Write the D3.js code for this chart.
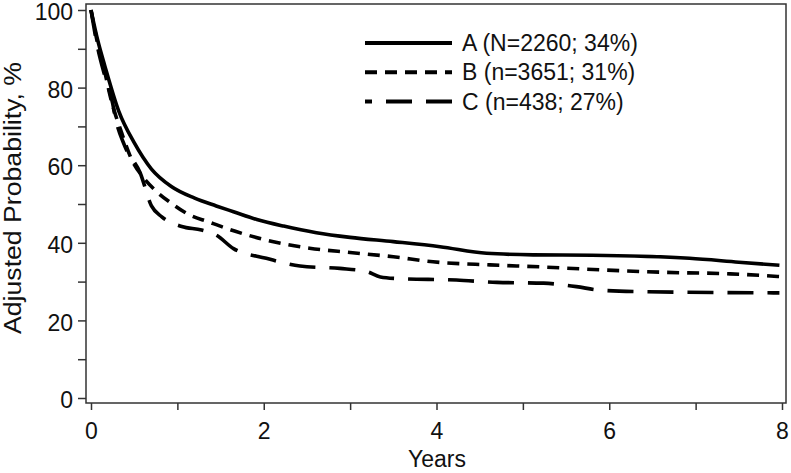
<!DOCTYPE html>
<html>
<head>
<meta charset="utf-8">
<script src="https://cdn.jsdelivr.net/npm/d3@7"></script>
<style>
body { margin:0; background:#fff; }
text { font-family:"Liberation Sans", Arial, sans-serif; fill:#111; }
</style>
</head>
<body>
<svg id="chart"></svg>
<script>
// years since start
var yearsA = [0, 0.08, 0.16, 0.32, 0.5, 0.7, 0.93, 1.2, 1.45, 1.65, 1.92, 2.23, 2.61, 3.0, 3.5, 4.04, 4.58, 5.12, 5.8, 6.93, 7.5, 7.97];
var probA  = [100, 92, 85.6, 74, 65.8, 59, 54.5, 51.5, 49.5, 48, 46, 44.3, 42.6, 41.4, 40.3, 39, 37.3, 36.9, 36.8, 36, 35, 34.2];

var yearsB = [0, 0.08, 0.16, 0.22, 0.36, 0.47, 0.6, 0.74, 0.93, 1.13, 1.36, 1.57, 2.03, 2.53, 3.0, 3.5, 3.96, 4.62, 5.2, 5.74, 6.62, 7.4, 7.97];
var probB  = [100, 91, 84, 78, 68, 61.5, 57, 53.6, 50.2, 47.3, 45.4, 43.7, 40.7, 38.6, 37.5, 36.4, 35.1, 34.3, 33.8, 33.2, 32.4, 32, 31.3];

var yearsC = [0, 0.08, 0.16, 0.25, 0.28, 0.39, 0.57, 0.7, 0.82, 1.05, 1.28, 1.45, 1.65, 2.03, 2.42, 2.88, 3.19, 3.35, 3.54, 4.23, 4.7, 5.24, 5.62, 5.89, 6.43, 7.97];
var probC  = [100, 90, 83, 76, 72.5, 65, 58, 49.5, 46.7, 44.2, 43.3, 42, 38.5, 36, 34, 33.4, 32.6, 31.2, 30.8, 30.4, 29.8, 29.6, 28.7, 27.8, 27.4, 27.1];

var groupLabels = ["A (N=2260; 34%)", "B (n=3651; 31%)", "C (n=438; 27%)"];
var dashes = ["none", "12,8", "26,14"];

var xTicks = [0, 1, 2, 3, 4, 5, 6, 7, 8];
var yTicks = [0, 10, 20, 30, 40, 50, 60, 70, 80, 90, 100];

var screen = {width:791, height:473};
var frame = {left:86, right:786, top:4, bottom:403};

var svg = d3.select("#chart")
    .attr("width", screen.width)
    .attr("height", screen.height);

var xScale = d3.scaleLinear()
    .domain([0, 8])
    .range([91, 782]);

var yScale = d3.scaleLinear()
    .domain([0, 100])
    .range([398, 10]);

var toPoints = function(xs, ys) {
    return xs.map(function(x, i) { return {t:x, p:ys[i]}; });
}

var series = [toPoints(yearsA, probA), toPoints(yearsB, probB), toPoints(yearsC, probC)];

// frame
svg.append("rect")
    .attr("x", frame.left)
    .attr("y", frame.top)
    .attr("width", frame.right - frame.left)
    .attr("height", frame.bottom - frame.top)
    .attr("fill", "none")
    .attr("stroke", "#333")
    .attr("stroke-width", 1.5);

var xAxis = d3.axisBottom(xScale)
    .tickValues(xTicks)
    .tickSize(7)
    .tickPadding(13)
    .tickFormat(function(d) { return d % 2 == 0 ? d : ""; });

var yAxis = d3.axisLeft(yScale)
    .tickValues(yTicks)
    .tickSize(8)
    .tickPadding(5)
    .tickFormat(function(d) { return d % 20 == 0 ? d : ""; });

var axes = svg.append("g");
axes.append("g")
    .attr("transform", "translate(0," + frame.bottom + ")")
    .call(xAxis);
var yG = axes.append("g")
    .attr("transform", "translate(" + frame.left + ",0)")
    .call(yAxis);
yG.selectAll(".tick text").attr("dy", "0.42em");

axes.selectAll(".domain").remove();
axes.selectAll(".tick line").attr("stroke", "#333").attr("stroke-width", 1.5);
axes.selectAll(".tick text")
    .attr("font-size", 23)
    .attr("font-family", "Liberation Sans, Arial, sans-serif")
    .attr("fill", "#111");

// axis titles
svg.append("text")
    .text("Years")
    .attr("text-anchor", "middle")
    .attr("font-size", 23)
    .attr("x", 437)
    .attr("y", 467);

svg.append("g")
    .attr("transform", "translate(21,198)")
    .append("text")
    .text("Adjusted Probability, %")
    .attr("text-anchor", "middle")
    .attr("font-size", 23)
    .attr("textLength", 272)
    .attr("lengthAdjust", "spacingAndGlyphs")
    .attr("transform", "rotate(-90)");

var line = d3.line()
    .x(function(d) { return xScale(d.t); })
    .y(function(d) { return yScale(d.p); })
    .curve(d3.curveMonotoneX);

svg.append("g")
    .selectAll("path")
    .data(series)
    .enter()
    .append("path")
    .attr("d", line)
    .attr("fill", "none")
    .attr("stroke", "#000")
    .attr("stroke-width", 3.6)
    .attr("stroke-linejoin", "round")
    .attr("stroke-dasharray", function(d, i) { return dashes[i]; });

// legend
var legend = svg.append("g")
    .selectAll("g")
    .data(groupLabels)
    .enter()
    .append("g")
    .attr("transform", function(d, i) { return "translate(365," + (43 + i * 29.3) + ")"; });

legend.append("line")
    .attr("x1", 0)
    .attr("x2", 87)
    .attr("stroke", "#000")
    .attr("stroke-width", 4)
    .attr("stroke-dasharray", function(d, i) { return dashes[i]; })
    .attr("stroke-dashoffset", function(d, i) { return i == 2 ? 19 : 0; });

legend.append("text")
    .text(function(d) { return d; })
    .attr("x", 97)
    .attr("y", 8)
    .attr("font-size", 23);
</script>
</body>
</html>
